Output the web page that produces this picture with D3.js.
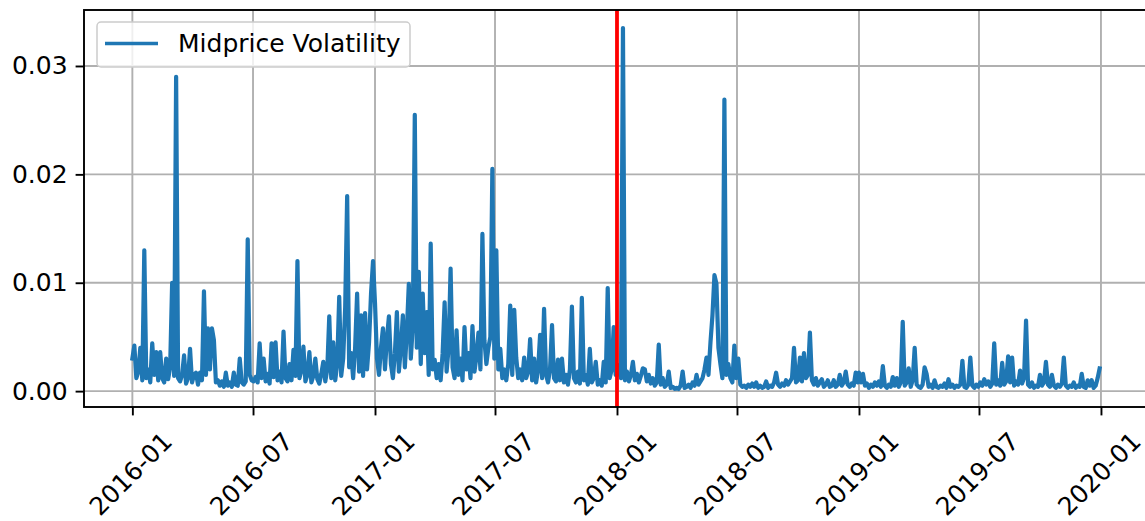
<!DOCTYPE html>
<html>
<head>
<meta charset="utf-8">
<script src="https://cdn.jsdelivr.net/npm/d3@7"></script>
<style>
  body { margin: 0; background: #fff; }
  text { font-family: "DejaVu Sans", sans-serif; }
</style>
</head>
<body>
<div id="chart"></div>
<script>
// volatility sampled every 3 days from 1 Jan of each year
var vol2016 = [
  0.0030, 0.0042, 0.0012, 0.0018, 0.0040, 0.0010, 0.0130, 0.0012, 0.0020, 0.0008,
  0.0044, 0.0015, 0.0036, 0.0010, 0.0036, 0.0012, 0.0008, 0.0030, 0.0011, 0.0022,
  0.0100, 0.0014, 0.0290, 0.0012, 0.0009, 0.0015, 0.0033, 0.0007, 0.0012, 0.0039,
  0.0008, 0.0015, 0.0017, 0.0006, 0.0017, 0.0010, 0.0092, 0.0015, 0.0058, 0.0020,
  0.0058, 0.0047, 0.0008, 0.0010, 0.0005, 0.0009, 0.0004, 0.0017, 0.0005, 0.0008,
  0.0004, 0.0017, 0.0006, 0.0005, 0.0030, 0.0008, 0.0006, 0.0009, 0.0140, 0.0015,
  0.0010, 0.0009, 0.0013, 0.0008, 0.0044, 0.0012, 0.0030, 0.0009, 0.0016, 0.0007,
  0.0044, 0.0013, 0.0045, 0.0010, 0.0018, 0.0008, 0.0055, 0.0012, 0.0009, 0.0025,
  0.0010, 0.0038, 0.0014, 0.0120, 0.0012, 0.0019, 0.0041, 0.0009, 0.0015, 0.0036,
  0.0008, 0.0014, 0.0030, 0.0011, 0.0007, 0.0016, 0.0027, 0.0009, 0.0020, 0.0069,
  0.0012, 0.0045, 0.0010, 0.0025, 0.0087, 0.0014, 0.0030, 0.0077, 0.0180, 0.0022,
  0.0035, 0.0012, 0.0040, 0.0090, 0.0018, 0.0070, 0.0014, 0.0072, 0.0020, 0.0045,
  0.0090, 0.0120
];
var vol2017 = [
  0.0081, 0.0030, 0.0015, 0.0040, 0.0058, 0.0020, 0.0049, 0.0069, 0.0025, 0.0012,
  0.0035, 0.0073, 0.0018, 0.0040, 0.0070, 0.0022, 0.0055, 0.0099, 0.0030, 0.0060,
  0.0255, 0.0040, 0.0110, 0.0025, 0.0090, 0.0035, 0.0073, 0.0015, 0.0136, 0.0020,
  0.0029, 0.0012, 0.0025, 0.0010, 0.0035, 0.0082, 0.0018, 0.0040, 0.0113, 0.0022,
  0.0012, 0.0056, 0.0015, 0.0030, 0.0010, 0.0059, 0.0020, 0.0035, 0.0012, 0.0060,
  0.0018, 0.0032, 0.0054, 0.0020, 0.0145, 0.0047, 0.0025, 0.0040, 0.0050, 0.0205,
  0.0030, 0.0130, 0.0020, 0.0039, 0.0012, 0.0020, 0.0010, 0.0025, 0.0079, 0.0015,
  0.0075, 0.0031, 0.0012, 0.0020, 0.0010, 0.0031, 0.0012, 0.0018, 0.0048, 0.0010,
  0.0030, 0.0008, 0.0020, 0.0052, 0.0012, 0.0076, 0.0015, 0.0008, 0.0020, 0.0061,
  0.0012, 0.0009, 0.0029, 0.0010, 0.0030, 0.0008, 0.0015, 0.0006, 0.0020, 0.0078,
  0.0012, 0.0008, 0.0018, 0.0007, 0.0086, 0.0010, 0.0015, 0.0006, 0.0039, 0.0008,
  0.0012, 0.0027, 0.0006, 0.0010, 0.0005, 0.0027, 0.0008, 0.0095, 0.0012, 0.0020,
  0.0059, 0.0015
];
var vol2018 = [
  0.0015, 0.0024, 0.0012, 0.0335, 0.0010, 0.0018, 0.0009, 0.0015, 0.0027, 0.0010,
  0.0016, 0.0008, 0.0014, 0.0021, 0.0020, 0.0009, 0.0015, 0.0007, 0.0012, 0.0005,
  0.0008, 0.0043, 0.0006, 0.0012, 0.0004, 0.0006, 0.0018, 0.0003, 0.0004, 0.0002,
  0.0003, 0.0002, 0.0005, 0.0018, 0.0003, 0.0004, 0.0006, 0.0003, 0.0008, 0.0005,
  0.0015, 0.0006, 0.0009, 0.0012, 0.0020, 0.0031, 0.0015, 0.0045, 0.0070, 0.0107,
  0.0099, 0.0040, 0.0025, 0.0012, 0.0269, 0.0015, 0.0025, 0.0012, 0.0008, 0.0042,
  0.0012, 0.0030, 0.0006, 0.0004, 0.0005, 0.0003, 0.0006, 0.0004, 0.0007, 0.0004,
  0.0008, 0.0003, 0.0005, 0.0003, 0.0004, 0.0009, 0.0003, 0.0005, 0.0004, 0.0008,
  0.0017, 0.0006, 0.0004, 0.0007, 0.0005, 0.0010, 0.0006, 0.0009, 0.0012, 0.0040,
  0.0008, 0.0010, 0.0031, 0.0009, 0.0035, 0.0012, 0.0015, 0.0054, 0.0010, 0.0006,
  0.0012, 0.0005, 0.0008, 0.0011, 0.0004, 0.0006, 0.0010, 0.0004, 0.0005, 0.0010,
  0.0004, 0.0006, 0.0015, 0.0005, 0.0008, 0.0018, 0.0006, 0.0004, 0.0007, 0.0005,
  0.0017, 0.0008
];
var vol2019 = [
  0.0017, 0.0008, 0.0016, 0.0005, 0.0007, 0.0003, 0.0006, 0.0004, 0.0008, 0.0005,
  0.0009, 0.0004, 0.0023, 0.0005, 0.0003, 0.0006, 0.0004, 0.0013, 0.0005, 0.0012,
  0.0004, 0.0008, 0.0064, 0.0005, 0.0008, 0.0021, 0.0004, 0.0010, 0.0040, 0.0006,
  0.0004, 0.0003, 0.0006, 0.0022, 0.0016, 0.0004, 0.0006, 0.0003, 0.0010, 0.0004,
  0.0003, 0.0005, 0.0004, 0.0007, 0.0003, 0.0011, 0.0004, 0.0006, 0.0003, 0.0005,
  0.0004, 0.0006, 0.0028, 0.0004, 0.0003, 0.0006, 0.0031, 0.0005, 0.0003, 0.0006,
  0.0004, 0.0008, 0.0005, 0.0011, 0.0006, 0.0009, 0.0004, 0.0007, 0.0044, 0.0006,
  0.0010, 0.0005, 0.0026, 0.0006, 0.0009, 0.0032, 0.0008, 0.0031, 0.0005, 0.0009,
  0.0006, 0.0019, 0.0007, 0.0012, 0.0065, 0.0006, 0.0004, 0.0008, 0.0003, 0.0005,
  0.0004, 0.0015, 0.0005, 0.0008, 0.0027, 0.0006, 0.0004, 0.0015, 0.0005, 0.0003,
  0.0006, 0.0004, 0.0007, 0.0031, 0.0005, 0.0003, 0.0005, 0.0004, 0.0008, 0.0003,
  0.0005, 0.0004, 0.0016, 0.0004, 0.0003, 0.0010, 0.0005, 0.0010, 0.0003, 0.0005,
  0.0012, 0.0021
];
var years = [2016, 2017, 2018, 2019];
var yTicks = [0, 0.01, 0.02, 0.03];
var splitDate = new Date(Date.UTC(2018, 0, 1));
var seriesName = "Midprice Volatility";

var width = 1145,
    height = 521,
    margin = {top: 10, left: 84},
    plotW = 1064,
    plotH = 397;

var data = [];
[vol2016, vol2017, vol2018, vol2019].forEach(function(arr, k) {
  arr.forEach(function(v, i) {
    data.push({date: d3.utcDay.offset(new Date(Date.UTC(years[k], 0, 1)), 3 * i), value: v});
  });
});

// matplotlib-style 5% padding
var xExt = d3.extent(data, function(d) { return d.date; });
var xPad = (xExt[1] - xExt[0]) * 0.05;
var yExt = d3.extent(data, function(d) { return d.value; });
var yPad = (yExt[1] - yExt[0]) * 0.05;

var x = d3.scaleUtc()
    .domain([new Date(+xExt[0] - xPad), new Date(+xExt[1] + xPad)])
    .range([margin.left, margin.left + plotW]);

var y = d3.scaleLinear()
    .domain([yExt[0] - yPad, yExt[1] + yPad])
    .range([margin.top + plotH, margin.top]);

var svg = d3.select("#chart").append("svg")
    .attr("width", width)
    .attr("height", height);

var xTicks = x.ticks(d3.utcMonth.every(6));

// grid
svg.append("g").selectAll("line")
    .data(xTicks)
  .enter().append("line")
    .attr("x1", function(d) { return x(d); })
    .attr("x2", function(d) { return x(d); })
    .attr("y1", margin.top)
    .attr("y2", margin.top + plotH)
    .attr("stroke", "#b0b0b0")
    .attr("stroke-width", 1.9);

svg.append("g").selectAll("line")
    .data(yTicks)
  .enter().append("line")
    .attr("x1", margin.left)
    .attr("x2", margin.left + plotW)
    .attr("y1", function(d) { return y(d); })
    .attr("y2", function(d) { return y(d); })
    .attr("stroke", "#b0b0b0")
    .attr("stroke-width", 1.9);

svg.append("defs").append("clipPath")
    .attr("id", "clip")
  .append("rect")
    .attr("x", margin.left)
    .attr("y", margin.top)
    .attr("width", plotW)
    .attr("height", plotH);

var line = d3.line()
    .x(function(d) { return x(d.date); })
    .y(function(d) { return y(d.value); });

svg.append("path")
    .datum(data)
    .attr("clip-path", "url(#clip)")
    .attr("fill", "none")
    .attr("stroke", "#1f77b4")
    .attr("stroke-width", 4.2)
    .attr("stroke-linejoin", "round")
    .attr("stroke-linecap", "square")
    .attr("d", line);

svg.append("line")
    .attr("x1", x(splitDate))
    .attr("x2", x(splitDate))
    .attr("y1", margin.top)
    .attr("y2", margin.top + plotH)
    .attr("stroke", "#ff0000")
    .attr("stroke-width", 3.8);

// frame
svg.append("rect")
    .attr("x", margin.left)
    .attr("y", margin.top)
    .attr("width", plotW)
    .attr("height", plotH)
    .attr("fill", "none")
    .attr("stroke", "#000")
    .attr("stroke-width", 1.9);

// y axis
var yAxis = svg.append("g")
    .attr("transform", "translate(" + margin.left + ",0)")
    .call(d3.axisLeft(y).tickValues(yTicks).tickFormat(d3.format(".2f"))
      .tickSize(8.4).tickPadding(8));
yAxis.select(".domain").remove();
yAxis.selectAll(".tick line").attr("stroke-width", 1.9);
yAxis.selectAll(".tick text")
    .attr("font-size", 25)
    .attr("font-family", "DejaVu Sans")
    .attr("fill", "#000");

// x axis
var xAxis = svg.append("g")
    .attr("transform", "translate(0," + (margin.top + plotH) + ")")
    .call(d3.axisBottom(x).tickValues(xTicks).tickFormat(d3.utcFormat("%Y-%m"))
      .tickSize(8.4));
xAxis.select(".domain").remove();
xAxis.selectAll(".tick line").attr("stroke-width", 1.9);
xAxis.selectAll(".tick text")
    .attr("font-size", 25)
    .attr("font-family", "DejaVu Sans")
    .attr("fill", "#000")
    .attr("text-anchor", "middle")
    .attr("dominant-baseline", "central")
    .attr("y", 0)
    .attr("dy", null)
    .attr("transform", "translate(-2,67) rotate(-45)");

// legend
var legend = svg.append("g");
legend.append("rect")
    .attr("x", 97)
    .attr("y", 22)
    .attr("width", 313)
    .attr("height", 45)
    .attr("rx", 4)
    .attr("fill", "#fff")
    .attr("fill-opacity", 0.8)
    .attr("stroke", "#cccccc")
    .attr("stroke-width", 1.5);
legend.append("line")
    .attr("x1", 105)
    .attr("x2", 158)
    .attr("y1", 43.5)
    .attr("y2", 43.5)
    .attr("stroke", "#1f77b4")
    .attr("stroke-width", 3.6);
legend.append("text")
    .attr("x", 178)
    .attr("y", 52)
    .attr("font-size", 25)
    .attr("fill", "#000")
    .text(seriesName);
</script>
</body>
</html>
